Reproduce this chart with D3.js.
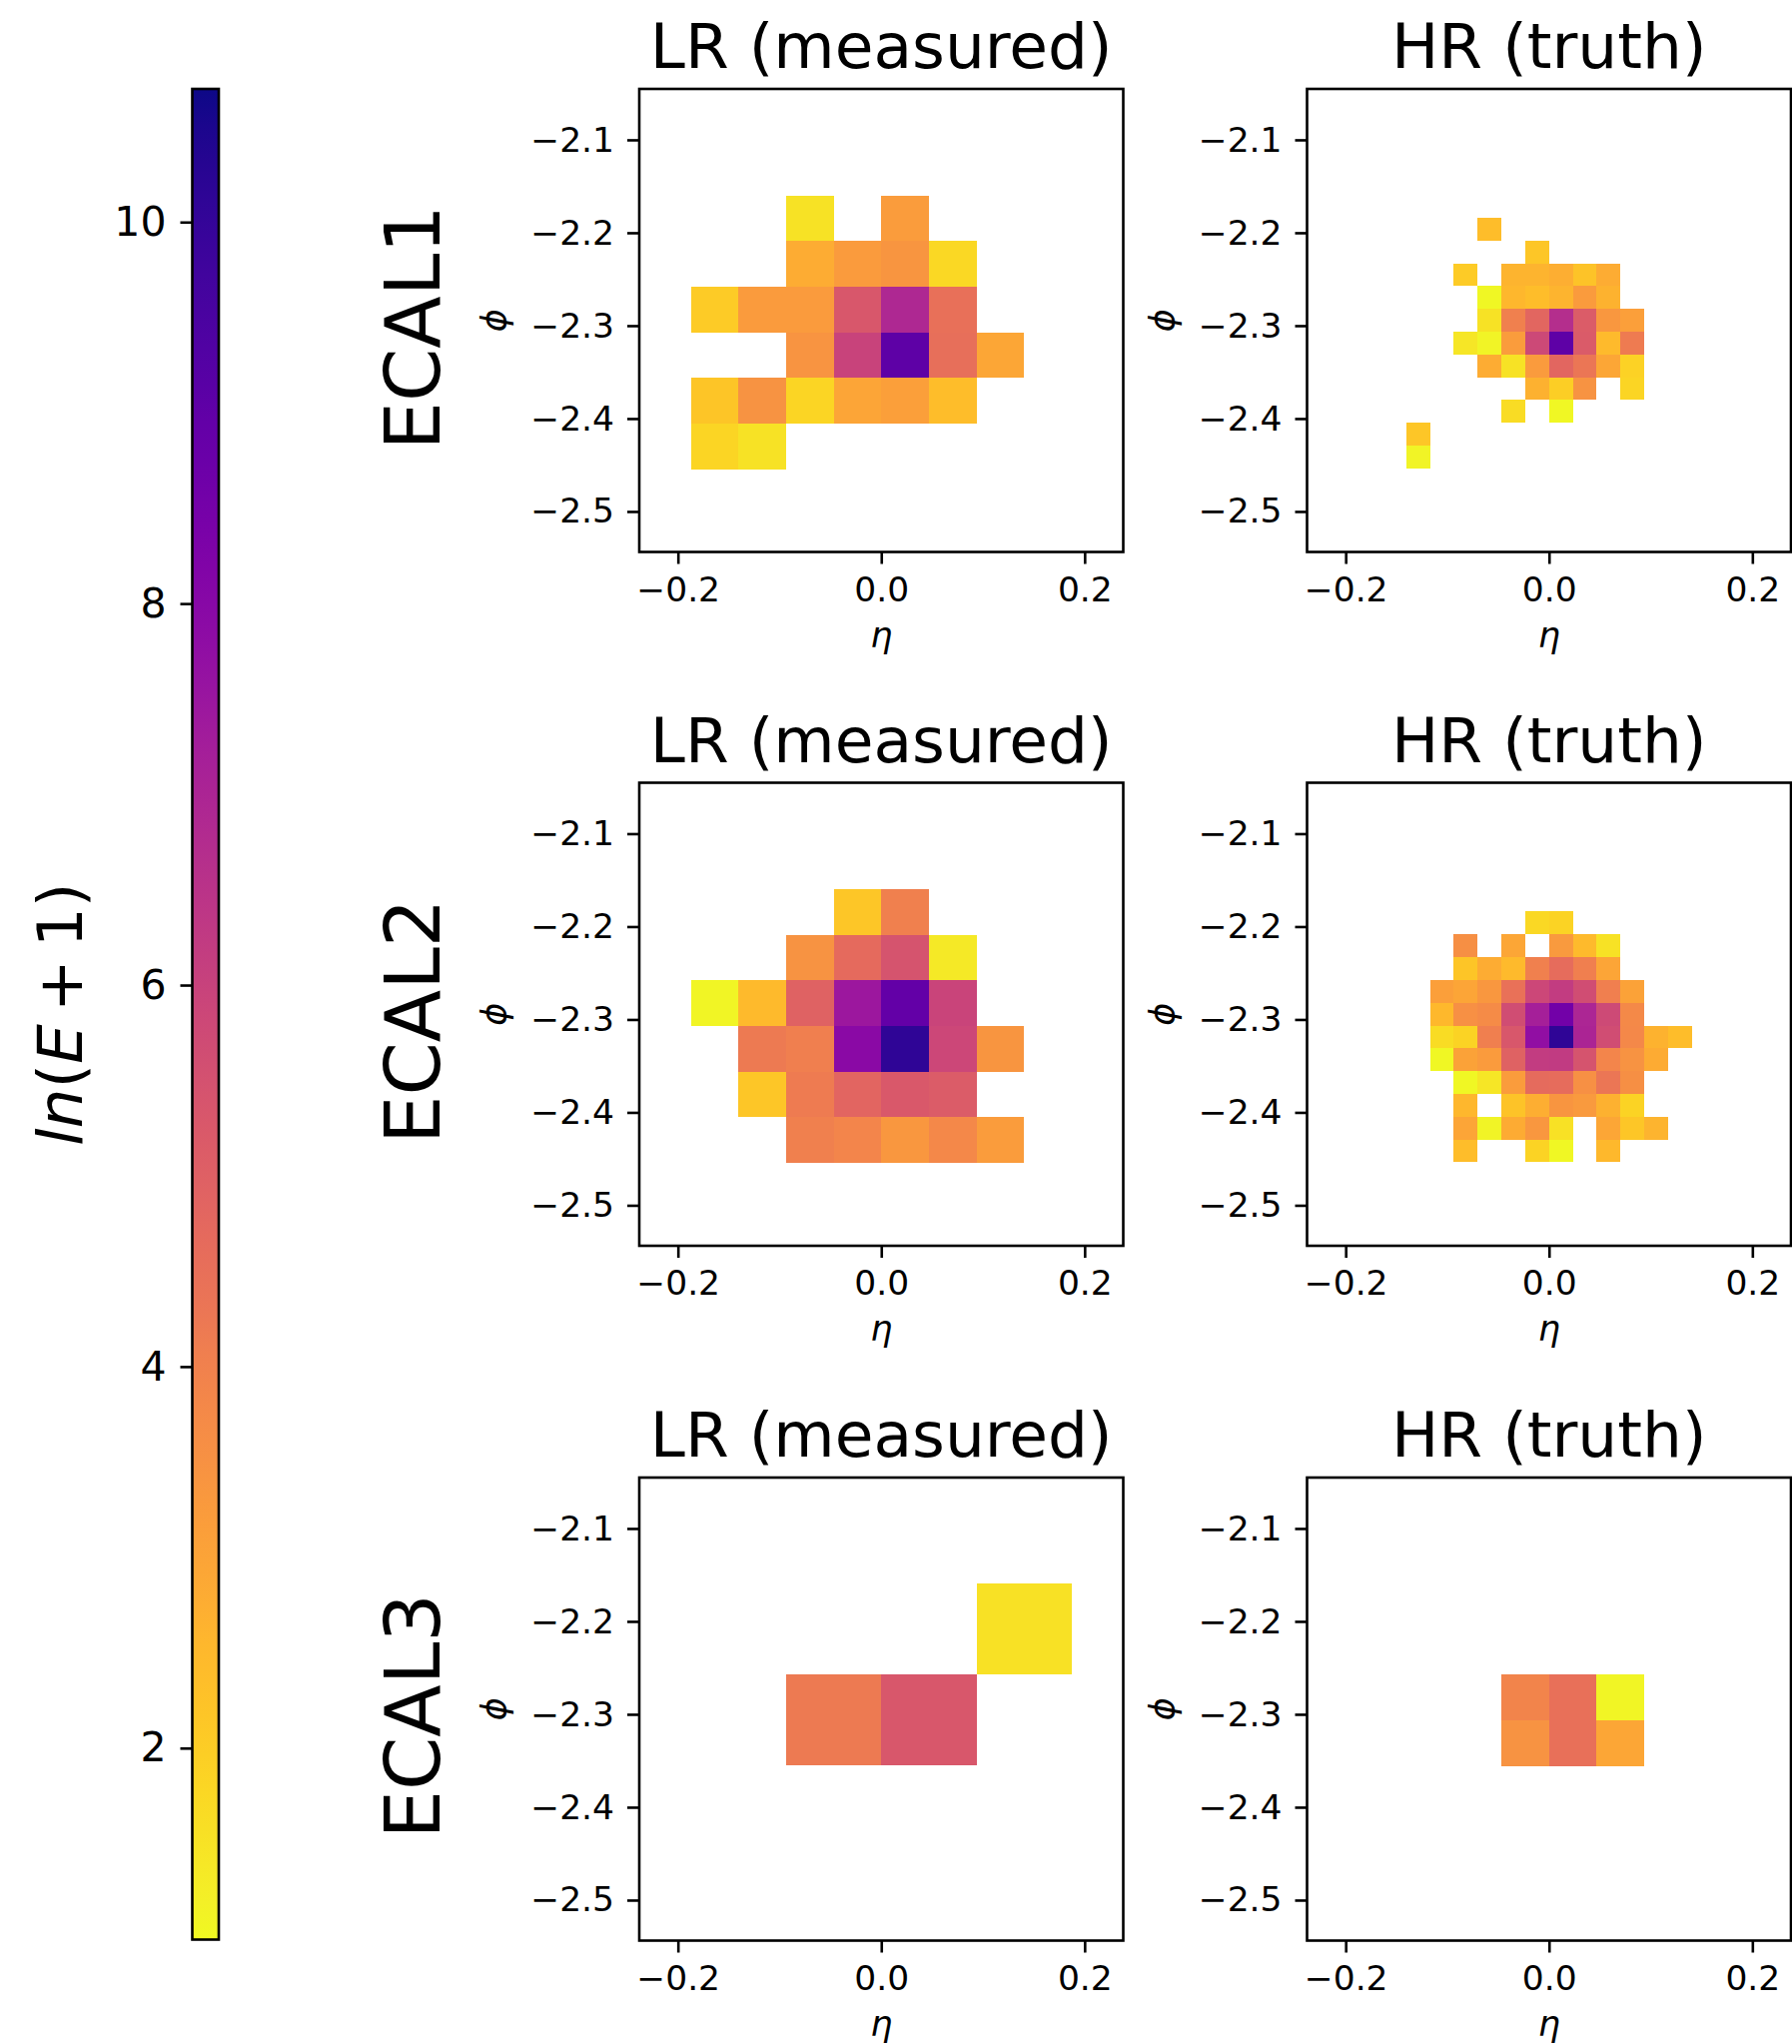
<!DOCTYPE html>
<html>
<head>
<meta charset="utf-8">
<script src="https://d3js.org/d3.v7.min.js"></script>
<style>
  body { margin: 0; background: #fff; }
  svg { display: block; }
  text { font-family: "DejaVu Sans", sans-serif; fill: #000; }
</style>
</head>
<body>
<svg id="chart"></svg>
<script>
// ln(E+1), rows run top to bottom, _ means empty cell
const _ = null

const ecal1LR = [
  [_, _, 1.5, _, 3.2, _, _],
  [_, _, 2.8, 3.25, 3.4, 1.75, _],
  [2.05, 3.25, 3.25, 5.3, 6.9, 4.5, _],
  [_, _, 3.45, 6.0, 9.05, 4.55, 2.95],
  [2.2, 3.5, 1.8, 3.0, 3.15, 2.4, _],
  [1.8, 1.5, _, _, _, _, _]
]
const ecal2LR = [
  [_, _, _, 2.15, 4.0, _, _],
  [_, _, 3.5, 4.7, 5.4, 1.35, _],
  [1.1, 2.45, 4.95, 7.45, 8.95, 5.95, _],
  [_, 4.2, 4.05, 7.95, 10.1, 5.85, 3.4],
  [_, 2.15, 4.15, 4.85, 5.25, 5.15, _],
  [_, _, 4.0, 3.85, 3.35, 3.8, 3.2]
]
const ecal3LR = [
  [_, _, 1.55],
  [4.2, 5.3, _]
]
const ecal1HR = [
  [_, _, _, 2.4, _, _, _, _, _, _],
  [_, _, _, _, _, 2.15, _, _, _, _],
  [_, _, 2.05, _, 2.6, 2.6, 2.75, 2.25, 2.8, _],
  [_, _, _, 1.05, 2.55, 2.4, 2.6, 3.25, 2.65, _],
  [_, _, _, 1.5, 4.0, 4.8, 6.7, 5.15, 3.35, 3.15],
  [_, _, 1.45, 1.15, 3.2, 5.8, 9.05, 5.2, 2.45, 4.15],
  [_, _, _, 2.8, 1.5, 3.25, 4.8, 4.3, 2.95, 1.9],
  [_, _, _, _, _, 2.7, 1.95, 3.5, _, 1.8],
  [_, _, _, _, 1.65, _, 1.05, _, _, _],
  [2.15, _, _, _, _, _, _, _, _, _],
  [1.15, _, _, _, _, _, _, _, _, _]
]
const ecal2HR = [
  [_, _, _, _, 1.75, 1.85, _, _, _, _, _],
  [_, 3.6, _, 2.95, _, 3.3, 2.45, 1.5, _, _, _],
  [_, 2.2, 2.8, 2.45, 4.0, 4.6, 4.05, 3.0, _, _, _],
  [3.15, 3.0, 3.35, 4.45, 5.85, 6.2, 5.65, 4.05, 3.05, _, _],
  [2.5, 3.55, 3.7, 5.65, 7.2, 8.55, 6.95, 5.75, 3.75, _, _],
  [1.65, 1.85, 4.05, 5.3, 7.75, 10.1, 7.0, 5.65, 3.8, 2.65, 2.4],
  [1.05, 3.05, 3.25, 4.95, 6.2, 6.25, 5.4, 3.85, 3.5, 2.85, _],
  [_, 1.05, 1.45, 3.2, 4.65, 4.6, 3.55, 4.3, 3.6, _, _],
  [_, 2.55, _, 2.25, 2.75, 3.4, 3.3, 2.7, 1.85, _, _],
  [_, 3.0, 1.15, 2.85, 3.35, 1.55, _, 2.95, 2.15, 2.6, _],
  [_, 2.4, _, _, 1.85, 1.05, _, 2.5, _, _, _]
]
const ecal3HR = [
  [3.9, 4.5, 1.1],
  [3.5, 4.5, 2.95]
]

// grid of each image: left edge, top edge, cell size in eta and phi
const gridEcalLR = [-0.1872, -2.1598, 0.0468, 0.0491]
const gridEcal1HR = [-0.1404, -2.1838, 0.0234, 0.02454]
const gridEcal2HR = [-0.117, -2.1838, 0.0234, 0.02454]
const gridEcal3LR = [-0.0936, -2.1589, 0.0936, 0.0981]
const gridEcal3HR = [-0.0468, -2.2574, 0.0468, 0.0491]

const rowNames = ['ECAL1', 'ECAL2', 'ECAL3']
const colTitles = ['LR (measured)', 'HR (truth)']
const etaTicks = [-0.2, 0.0, 0.2]
const phiTicks = [-2.1, -2.2, -2.3, -2.4, -2.5]
const cbarTicks = [2, 4, 6, 8, 10]
const etaDomain = [-0.238, 0.238]
const phiDomain = [-2.0452, -2.5436]
const cbarDomain = [0.996, 10.698]

const panels = [
  { row: 0, col: 0, values: ecal1LR, grid: gridEcalLR },
  { row: 0, col: 1, values: ecal1HR, grid: gridEcal1HR },
  { row: 1, col: 0, values: ecal2LR, grid: gridEcalLR },
  { row: 1, col: 1, values: ecal2HR, grid: gridEcal2HR },
  { row: 2, col: 0, values: ecal3LR, grid: gridEcal3LR },
  { row: 2, col: 1, values: ecal3HR, grid: gridEcal3HR }
]

// layout in pixels
let width = 1794
let height = 2046
let colLefts = [640, 1308.5]
let rowTops = [89, 783.5, 1479]
let panelW = 484.5
let panelH = 463.5
let lineW = 2.6
let tickLen = 12

let svg = d3.select('#chart').attr('width', width).attr('height', height)

// plasma reversed: high energy is dark
let color = d3.scaleSequential(t => d3.interpolatePlasma(1 - t)).domain([1, 10.7])

let minus = (s) => s.replace('-', '\u2212')

let styleAxis = (g, size) => {
  g.select('.domain').remove()
  g.selectAll('.tick line').attr('stroke', '#000').attr('stroke-width', lineW)
  g.selectAll('.tick text').attr('font-size', size).attr('font-family', '"DejaVu Sans"').attr('fill', '#000')
}

let drawPanel = (p) => {
  let left = colLefts[p.col]
  let top = rowTops[p.row]
  let x = d3.scaleLinear().domain(etaDomain).range([left, left + panelW])
  let y = d3.scaleLinear().domain(phiDomain).range([top, top + panelH])
  let [eta0, phi0, dEta, dPhi] = p.grid

  let cells = []
  p.values.forEach((row, i) => row.forEach((v, j) => {
    if (v !== null) cells.push({ i, j, v })
  }))

  svg.append('g')
    .selectAll('rect')
    .data(cells)
    .enter()
    .append('rect')
    .attr('x', d => x(eta0 + d.j * dEta))
    .attr('y', d => y(phi0 - d.i * dPhi))
    .attr('width', d => x(eta0 + (d.j + 1) * dEta) - x(eta0 + d.j * dEta))
    .attr('height', d => y(phi0 - (d.i + 1) * dPhi) - y(phi0 - d.i * dPhi))
    .attr('shape-rendering', 'crispEdges')
    .attr('fill', d => color(d.v))

  svg.append('rect')
    .attr('x', left).attr('y', top)
    .attr('width', panelW).attr('height', panelH)
    .attr('fill', 'none').attr('stroke', '#000').attr('stroke-width', lineW)

  svg.append('g')
    .attr('transform', `translate(0,${top + panelH})`)
    .call(d3.axisBottom(x).tickValues(etaTicks).tickSize(tickLen).tickPadding(13).tickFormat(d => minus(d3.format('.1f')(d))))
    .call(styleAxis, 34.5)

  svg.append('g')
    .attr('transform', `translate(${left},0)`)
    .call(d3.axisLeft(y).tickValues(phiTicks).tickSize(tickLen).tickPadding(13).tickFormat(d => minus(d3.format('.1f')(d))))
    .call(styleAxis, 34.5)

  // title and axis labels
  svg.append('text')
    .attr('x', left + panelW / 2).attr('y', top - 21)
    .attr('text-anchor', 'middle').attr('font-size', 63)
    .text(colTitles[p.col])

  svg.append('text')
    .attr('x', left + panelW / 2).attr('y', top + panelH + 95)
    .attr('text-anchor', 'middle').attr('font-size', 35).attr('font-style', 'italic')
    .text('\u03b7')

  svg.append('text')
    .attr('transform', `translate(${left - 133},${top + panelH / 2}) rotate(-90)`)
    .attr('text-anchor', 'middle').attr('font-size', 35).attr('font-style', 'italic')
    .text('\u03d5')
}

let drawRowNames = () => {
  svg.selectAll('.row-name')
    .data(rowNames)
    .enter()
    .append('text')
    .attr('class', 'row-name')
    .attr('transform', (d, i) => `translate(440,${rowTops[i] + panelH / 2 + 7}) rotate(-90)`)
    .attr('text-anchor', 'middle')
    .attr('font-size', 76.5)
    .text(d => d)
}

let drawColorbar = () => {
  let cbLeft = 192.5
  let cbWidth = 26.5
  let cbTop = 89
  let cbBottom = 1941.5
  let scale = d3.scaleLinear().domain(cbarDomain).range([cbBottom, cbTop])

  let grad = svg.append('defs').append('linearGradient')
    .attr('id', 'cbar').attr('x1', 0).attr('y1', 1).attr('x2', 0).attr('y2', 0)
  grad.selectAll('stop')
    .data(d3.range(0, 1.0001, 0.02))
    .enter()
    .append('stop')
    .attr('offset', d => d)
    .attr('stop-color', d => d3.interpolatePlasma(1 - d))

  svg.append('rect')
    .attr('x', cbLeft).attr('y', cbTop)
    .attr('width', cbWidth).attr('height', cbBottom - cbTop)
    .attr('fill', 'url(#cbar)')
    .attr('stroke', '#000').attr('stroke-width', lineW)

  svg.append('g')
    .attr('transform', `translate(${cbLeft},0)`)
    .call(d3.axisLeft(scale).tickValues(cbarTicks).tickSize(tickLen).tickPadding(14).tickFormat(d3.format('d')))
    .call(styleAxis, 41)

  let label = svg.append('text')
    .attr('transform', `translate(82,${(cbTop + cbBottom) / 2}) rotate(-90)`)
    .attr('text-anchor', 'middle')
    .attr('font-size', 63)
  label.append('tspan').attr('font-style', 'italic').text('ln')
  label.append('tspan').text('(')
  label.append('tspan').attr('font-style', 'italic').text('E')
  label.append('tspan').attr('dx', 12).text('+')
  label.append('tspan').attr('dx', 12).text('1)')
}

panels.forEach(drawPanel)
drawRowNames()
drawColorbar()
</script>
</body>
</html>
